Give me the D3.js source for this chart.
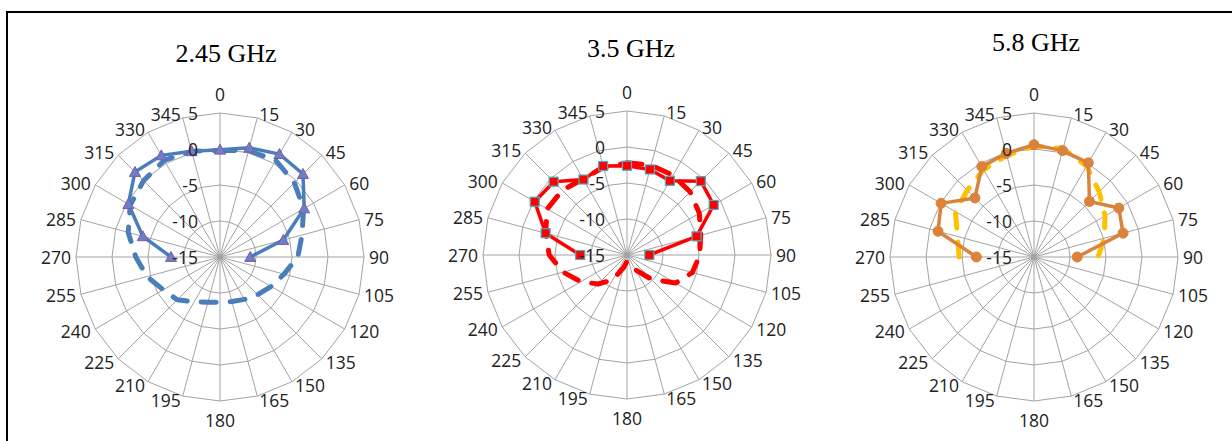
<!DOCTYPE html>
<html>
<head>
<meta charset="utf-8">
<script src="https://cdn.jsdelivr.net/npm/d3@7"></script>
<style>
  html, body { margin: 0; padding: 0; background: #fff; }
  svg { display: block; }
</style>
</head>
<body>
<svg id="chart" width="1232" height="441"></svg>
<script>
// ---- data ----
const angles = [0,15,30,45,60,75,90,105,120,135,150,165,180,195,210,225,240,255,270,285,300,315,330,345];
const radialTicks = [-15,-10,-5,0,5];
const titles = ["2.45 GHz", "3.5 GHz", "5.8 GHz"];

// 2.45 GHz
const g245Solid  = [-0.1, 0.7, 1.5, 1.3, -1.5, -5.9, -10.8, null, null, null, null, null, null, null, null, null, null, null, -8.2, -3.9, -0.3, 1.7, 1.3, 0.2];
const g245Dashed = [-0.2, 0.3, 0.5, -0.4, -1.6, -3.2, -4.2, -5.8, -6.8, -7.6, -8.2, -8.6, -8.7, -8.5, -7.8, -6.6, -5.9, -4.5, -3.3, -1.8, -0.6, 0.0, 0.5, 0.2];
// 3.5 GHz
const g35Solid   = [-2.6, -2.7, -3.1, -0.5, -1.1, -5.0, -11.9, null, null, null, null, null, null, null, null, null, null, null, -8.5, -3.3, -0.2, -0.6, -2.9, -2.2];
const g35Dashed  = [-2.2, -2.1, -2.2, -2.6, -3.4, -4.4, -4.9, -5.6, -7.2, -10.3, -12.6, -13.8, -14.1, -13.2, -11.0, -9.3, -7.6, -5.8, -4.2, -3.3, -2.2, -2.3, -2.8, -2.4];
// 5.8 GHz
const g58Solid   = [0.6, 0.3, 0.1, -4.1, -1.4, -2.2, -9.0, null, null, null, null, null, null, null, null, null, null, null, -7.0, -1.2, -0.1, -3.4, -0.5, -0.1];
const g58Dashed  = [0.4, 0.6, -0.4, -2.2, -3.6, -4.9, -6.1, null, null, null, null, null, null, null, null, null, null, null, -4.6, -4.0, -2.4, -1.9, -1.0, -0.4];

// ---- layout / styles ----
const panels = [
  { title: titles[0], cx: 220, cy: 257, tx: 226, ty: 62,
    series: [
      { values: g245Dashed, color: "#4a7ebb", width: 5, dash: "15 14", marker: null },
      { values: g245Solid,  color: "#4a7ebb", width: 3.5, dash: null, marker: "triangle", mfill: "#6d7fc6", mstroke: "#7f5aa6" }
    ] },
  { title: titles[1], cx: 627, cy: 255, tx: 631, ty: 57,
    series: [
      { values: g35Dashed, color: "#ff0000", width: 5, dash: "15 14", marker: null },
      { values: g35Solid,  color: "#ff0000", width: 3.5, dash: null, marker: "square", mfill: "#ff0000", mstroke: "#4bacc6" }
    ] },
  { title: titles[2], cx: 1034, cy: 257, tx: 1036, ty: 51,
    series: [
      { values: g58Dashed, color: "#ffc000", width: 5, dash: "15 14", marker: null },
      { values: g58Solid,  color: "#d9833d", width: 3.5, dash: null, marker: "circle", mfill: "#d9833d", mstroke: "#d9833d" }
    ] }
];

const R = 144;
const svg = d3.select("#chart");

// frame
svg.append("rect").attr("x", 7).attr("y", 12).attr("width", 1240).attr("height", 440)
  .attr("fill", "none").attr("stroke", "#000").attr("stroke-width", 2);

const rScale = d3.scaleLinear().domain([-15, 5]).range([0, R]);
const aScale = d3.scaleLinear().domain([0, 360]).range([0, 2 * Math.PI]);

const labelFont = "'Open Sans', 'Liberation Sans', sans-serif";
const textColor = "#222";

panels.forEach(p => {
  const g = svg.append("g").attr("transform", `translate(${p.cx},${p.cy})`);

  // grid polygons
  radialTicks.slice(1).forEach(t => {
    const rr = rScale(t);
    const line = d3.lineRadial().curve(d3.curveLinearClosed)
      .angle(d => aScale(d)).radius(rr);
    g.append("path").attr("d", line(angles))
      .attr("fill", "none").attr("stroke", "#a3a3a3").attr("stroke-width", 1);
  });
  // spokes
  angles.forEach(a => {
    const t = aScale(a);
    g.append("line")
      .attr("x1", 0).attr("y1", 0)
      .attr("x2", R * Math.sin(t)).attr("y2", -R * Math.cos(t))
      .attr("stroke", "#a3a3a3").attr("stroke-width", 1);
  });

  // series
  p.series.forEach(s => {
    let pts = angles.map((a, i) => ({ a, v: s.values[i] }));
    const hasNull = pts.some(d => d.v == null);
    let path;
    if (hasNull) {
      // rotate so the run starts right after the gap
      let start = 0;
      for (let i = 0; i < pts.length; i++) {
        const prev = pts[(i - 1 + pts.length) % pts.length];
        if (pts[i].v != null && prev.v == null) { start = i; break; }
      }
      pts = pts.slice(start).concat(pts.slice(0, start));
      const line = d3.lineRadial().defined(d => d.v != null)
        .angle(d => aScale(d.a)).radius(d => rScale(d.v));
      path = line(pts);
    } else {
      const line = d3.lineRadial().curve(d3.curveLinearClosed)
        .angle(d => aScale(d.a)).radius(d => rScale(d.v));
      path = line(pts);
    }
    const el = g.append("path").attr("d", path)
      .attr("fill", "none").attr("stroke", s.color)
      .attr("stroke-width", s.width).attr("stroke-linejoin", "round");
    if (s.dash) el.attr("stroke-dasharray", s.dash).attr("stroke-linecap", "round");

    if (s.marker) {
      const defined = pts.filter(d => d.v != null);
      defined.forEach(d => {
        const t = aScale(d.a), rr = rScale(d.v);
        const x = rr * Math.sin(t), y = -rr * Math.cos(t);
        if (s.marker === "triangle") {
          const sz = 5.5;
          g.append("path")
            .attr("d", `M${x},${y - sz} L${x + sz},${y + sz * 0.8} L${x - sz},${y + sz * 0.8} Z`)
            .attr("fill", s.mfill).attr("stroke", s.mstroke).attr("stroke-width", 1);
        } else if (s.marker === "square") {
          const sz = 9;
          g.append("rect").attr("x", x - sz / 2).attr("y", y - sz / 2)
            .attr("width", sz).attr("height", sz)
            .attr("fill", s.mfill).attr("stroke", s.mstroke).attr("stroke-width", 1.2);
        } else {
          g.append("circle").attr("cx", x).attr("cy", y).attr("r", 5)
            .attr("fill", s.mfill).attr("stroke", s.mstroke);
        }
      });
    }
  });

  // value-axis labels
  radialTicks.forEach(t => {
    g.append("text").attr("x", -22).attr("y", -rScale(t))
      .attr("text-anchor", "end").attr("dominant-baseline", "central")
      .attr("font-family", labelFont).attr("font-size", 17.5).attr("fill", textColor)
      .text(t);
  });

  // angle labels
  const RL = 148;
  angles.forEach(a => {
    const t = aScale(a);
    const s = Math.sin(t), c = Math.cos(t);
    let x = RL * s, y = -RL * c, anchor = "middle";
    if (Math.abs(s) < 0.01) {
      y = c > 0 ? -163 : 163;
    } else {
      anchor = s > 0 ? "start" : "end";
      x += s > 0 ? 1 : -1;
    }
    g.append("text").attr("x", x).attr("y", y)
      .attr("text-anchor", anchor).attr("dominant-baseline", "central")
      .attr("font-family", labelFont).attr("font-size", 17.5).attr("fill", textColor)
      .text(a);
  });

  // title
  svg.append("text").attr("x", p.tx).attr("y", p.ty)
    .attr("text-anchor", "middle")
    .attr("font-family", "'Liberation Serif', 'Times New Roman', serif")
    .attr("font-size", 26).attr("fill", "#000")
    .text(p.title);
});
</script>
</body>
</html>
